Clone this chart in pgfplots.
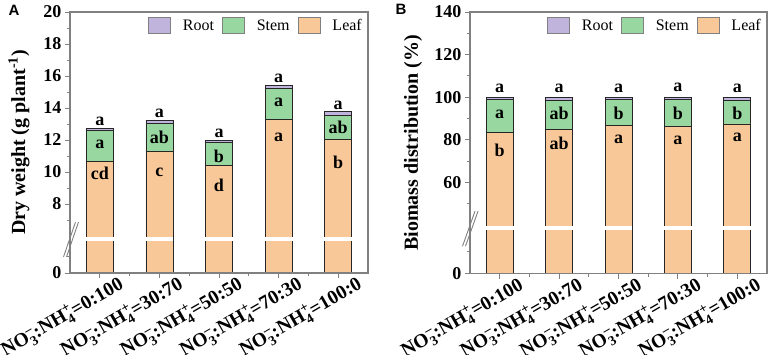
\documentclass[border=0pt]{standalone}
\usepackage{pgfplots}
\pgfplotsset{compat=1.18}
\usepackage{amsmath}
\usepackage{fontspec}
\setmainfont{Liberation Serif}
\setsansfont{Liberation Sans}

\definecolor{leafc}{RGB}{249,200,152}
\definecolor{stemc}{RGB}{152,216,160}
\definecolor{rootc}{RGB}{193,180,220}
\definecolor{axc}{RGB}{128,128,128}

\newcommand\lab[1]{NO$_{\text{3}}^{\text{--}}$:NH$_{\text{4}}^{\text{+}}$=#1}
\newcommand\bigf{\bfseries\fontsize{18}{18}\selectfont}

\pgfplotsset{
  boxlegend/.style={legend image code/.code={\draw[##1,draw=axc,line width=0.8pt] (0pt,-8pt) rectangle (22pt,8pt);}},
  mystyle/.style={
    axis on top,
    scale only axis, width=298pt, height=261pt,
    anchor=north west,
    ybar stacked, bar width=27pt,
    xmin=-0.5, xmax=4.5,
    xtick={0,...,4}, minor xtick={0.5,1.5,2.5,3.5},
    xticklabels={\lab{0:100},\lab{30:70},\lab{50:50},\lab{70:30},\lab{100:0}},
    tick align=outside, xtick pos=left, ytick pos=left,
    major tick length=5pt, minor tick length=3pt,
    axis line style={draw=axc, line width=1.3pt},
    every tick/.style={draw=axc, line width=1pt},
    every minor tick/.style={draw=axc, line width=1pt},
    /pgf/number format/assume math mode=true,
    yticklabel style={font=\bigf},
    xticklabel style={rotate=30, anchor=north east, font=\bfseries\fontsize{19.5}{19.5}\selectfont, xshift=20pt, yshift=-2pt},
    ylabel style={font=\bfseries\fontsize{20}{20}\selectfont, anchor=center},
    clip mode=individual,
    every axis plot/.append style={draw=black!85, line width=0.8pt},
    legend style={at={(1,1)}, anchor=north east, draw=none, fill=none,
      legend columns=-1, font=\fontsize{16}{16}\selectfont,
      /tikz/every odd column/.append style={column sep=10pt},
      /tikz/every even column/.append style={column sep=6pt},
      xshift=-1pt, yshift=-3pt},
  }
}

\begin{document}
\begin{tikzpicture}
\useasboundingbox (0,0) rectangle (768pt,-354pt);

% Panel A
\begin{axis}[mystyle, at={(70pt,-12pt)},
  ymin=3.6875, ymax=20,
  ytick={3.6875,8,10,12,14,16,18,20},
  yticklabels={0,8,10,12,14,16,18,20},
  minor ytick={4.706,7,9,11,13,15,17,19},
  ylabel={Dry weight (g plant\textsuperscript{-1})},
  ylabel style={at={(axis description cs:-0.171,0.5)}},
]
\addlegendimage{boxlegend, fill=rootc}
\addlegendimage{boxlegend, fill=stemc}
\addlegendimage{boxlegend, fill=leafc}
\legend{Root,Stem,Leaf}
\addplot[fill=leafc] coordinates {(0,10.67) (1,11.27) (2,10.40) (3,13.29) (4,12.04)};
\addplot[fill=stemc] coordinates {(0,1.91) (1,1.77) (2,1.45) (3,1.94) (4,1.52)};
\addplot[fill=rootc] coordinates {(0,0.17) (1,0.21) (2,0.15) (3,0.17) (4,0.21)};
\coordinate (Aw0l) at (axis cs:-0.235,5.81); \coordinate (Aw0r) at (axis cs:0.235,5.81);
\coordinate (Aw1l) at (axis cs:0.765,5.81); \coordinate (Aw1r) at (axis cs:1.235,5.81);
\coordinate (Aw2l) at (axis cs:1.765,5.81); \coordinate (Aw2r) at (axis cs:2.235,5.81);
\coordinate (Aw3l) at (axis cs:2.765,5.81); \coordinate (Aw3r) at (axis cs:3.235,5.81);
\coordinate (Aw4l) at (axis cs:3.765,5.81); \coordinate (Aw4r) at (axis cs:4.235,5.81);
\coordinate (Abk1) at (axis cs:-0.5,4.69); \coordinate (Abk2) at (axis cs:-0.5,6.875);
\coordinate (AL1) at (axis cs:0,9.94);
\coordinate (AL2) at (axis cs:1,10.0);
\coordinate (AL3) at (axis cs:2,9.19);
\coordinate (AL4) at (axis cs:3,12.19);
\coordinate (AL5) at (axis cs:4,10.63);
\coordinate (AS1) at (axis cs:0,11.75);
\coordinate (AS2) at (axis cs:1,12.19);
\coordinate (AS3) at (axis cs:2,11.0);
\coordinate (AS4) at (axis cs:3,14.38);
\coordinate (AS5) at (axis cs:4,12.81);
\coordinate (AT1) at (axis cs:0,13.19);
\coordinate (AT2) at (axis cs:1,13.69);
\coordinate (AT3) at (axis cs:2,12.44);
\coordinate (AT4) at (axis cs:3,15.88);
\coordinate (AT5) at (axis cs:4,14.19);
\end{axis}

% Panel B
\begin{axis}[mystyle, at={(470pt,-12pt)}, width=297pt, height=261.7pt,
  ymin=17.3, ymax=140,
  ytick={17.3,60,80,100,120,140},
  yticklabels={0,60,80,100,120,140},
  minor ytick={27.5,50,70,90,110,130},
  ylabel={Biomass distribution (\%)},
  ylabel style={at={(axis description cs:-0.192,0.5)}},
]
\addlegendimage{boxlegend, fill=rootc}
\addlegendimage{boxlegend, fill=stemc}
\addlegendimage{boxlegend, fill=leafc}
\legend{Root,Stem,Leaf}
\addplot[fill=leafc] coordinates {(0,83.7) (1,85.1) (2,87.0) (3,86.4) (4,87.5)};
\addplot[fill=stemc] coordinates {(0,15.2) (1,13.5) (2,11.9) (3,12.6) (4,11.1)};
\addplot[fill=rootc] coordinates {(0,1.1) (1,1.4) (2,1.1) (3,1.0) (4,1.4)};
\coordinate (Bw0l) at (axis cs:-0.235,38.5); \coordinate (Bw0r) at (axis cs:0.235,38.5);
\coordinate (Bw1l) at (axis cs:0.765,38.5); \coordinate (Bw1r) at (axis cs:1.235,38.5);
\coordinate (Bw2l) at (axis cs:1.765,38.5); \coordinate (Bw2r) at (axis cs:2.235,38.5);
\coordinate (Bw3l) at (axis cs:2.765,38.5); \coordinate (Bw3r) at (axis cs:3.235,38.5);
\coordinate (Bw4l) at (axis cs:3.765,38.5); \coordinate (Bw4r) at (axis cs:4.235,38.5);
\coordinate (Bbk1) at (axis cs:-0.5,30.2); \coordinate (Bbk2) at (axis cs:-0.5,46.6);
\coordinate (BL1) at (axis cs:0,75.1);
\coordinate (BL2) at (axis cs:1,78.5);
\coordinate (BL3) at (axis cs:2,80.4);
\coordinate (BL4) at (axis cs:3,79.8);
\coordinate (BL5) at (axis cs:4,81.0);
\coordinate (BS1) at (axis cs:0,91.9);
\coordinate (BS2) at (axis cs:1,92.6);
\coordinate (BS3) at (axis cs:2,92.3);
\coordinate (BS4) at (axis cs:3,92.6);
\coordinate (BS5) at (axis cs:4,92.3);
\coordinate (BT1) at (axis cs:0,104.0);
\coordinate (BT2) at (axis cs:1,104.0);
\coordinate (BT3) at (axis cs:2,104.0);
\coordinate (BT4) at (axis cs:3,104.9);
\coordinate (BT5) at (axis cs:4,104.0);
\end{axis}

% white break bands and break marks
\foreach \p in {A,B}{
  \foreach \i in {0,...,4}{
    \draw[white, line width=4pt] (\p w\i l) -- (\p w\i r);
  }
}
\draw[axc, line width=0.9pt] ([xshift=-6.5pt]Abk1) -- ([xshift=5.5pt]Abk2);
\draw[axc, line width=0.9pt] ([xshift=-3.5pt]Abk1) -- ([xshift=8.5pt]Abk2);
\draw[axc, line width=0.9pt] ([xshift=-7.5pt]Bbk1) -- ([xshift=5pt]Bbk2);
\draw[axc, line width=0.9pt] ([xshift=-4.5pt]Bbk1) -- ([xshift=8pt]Bbk2);

% significance letters
\begin{scope}[every node/.style={font=\bigf}]
\node at (AL1) {cd}; \node at (AL2) {c}; \node at (AL3) {d}; \node at (AL4) {a}; \node at (AL5) {b};
\node at (AS1) {a}; \node at (AS2) {ab}; \node at (AS3) {b}; \node at (AS4) {a}; \node at (AS5) {ab};
\node at (AT1) {a}; \node at (AT2) {a}; \node at (AT3) {a}; \node at (AT4) {a}; \node at (AT5) {a};
\node at (BL1) {b}; \node at (BL2) {ab}; \node at (BL3) {a}; \node at (BL4) {a}; \node at (BL5) {a};
\node at (BS1) {a}; \node at (BS2) {ab}; \node at (BS3) {b}; \node at (BS4) {b}; \node at (BS5) {b};
\node at (BT1) {a}; \node at (BT2) {a}; \node at (BT3) {a}; \node at (BT4) {a}; \node at (BT5) {a};
\end{scope}

\node[font=\sffamily\bfseries\fontsize{15}{15}\selectfont] at (14pt,-10pt) {A};
\node[font=\sffamily\bfseries\fontsize{15}{15}\selectfont] at (401pt,-9pt) {B};
\end{tikzpicture}
\end{document}
